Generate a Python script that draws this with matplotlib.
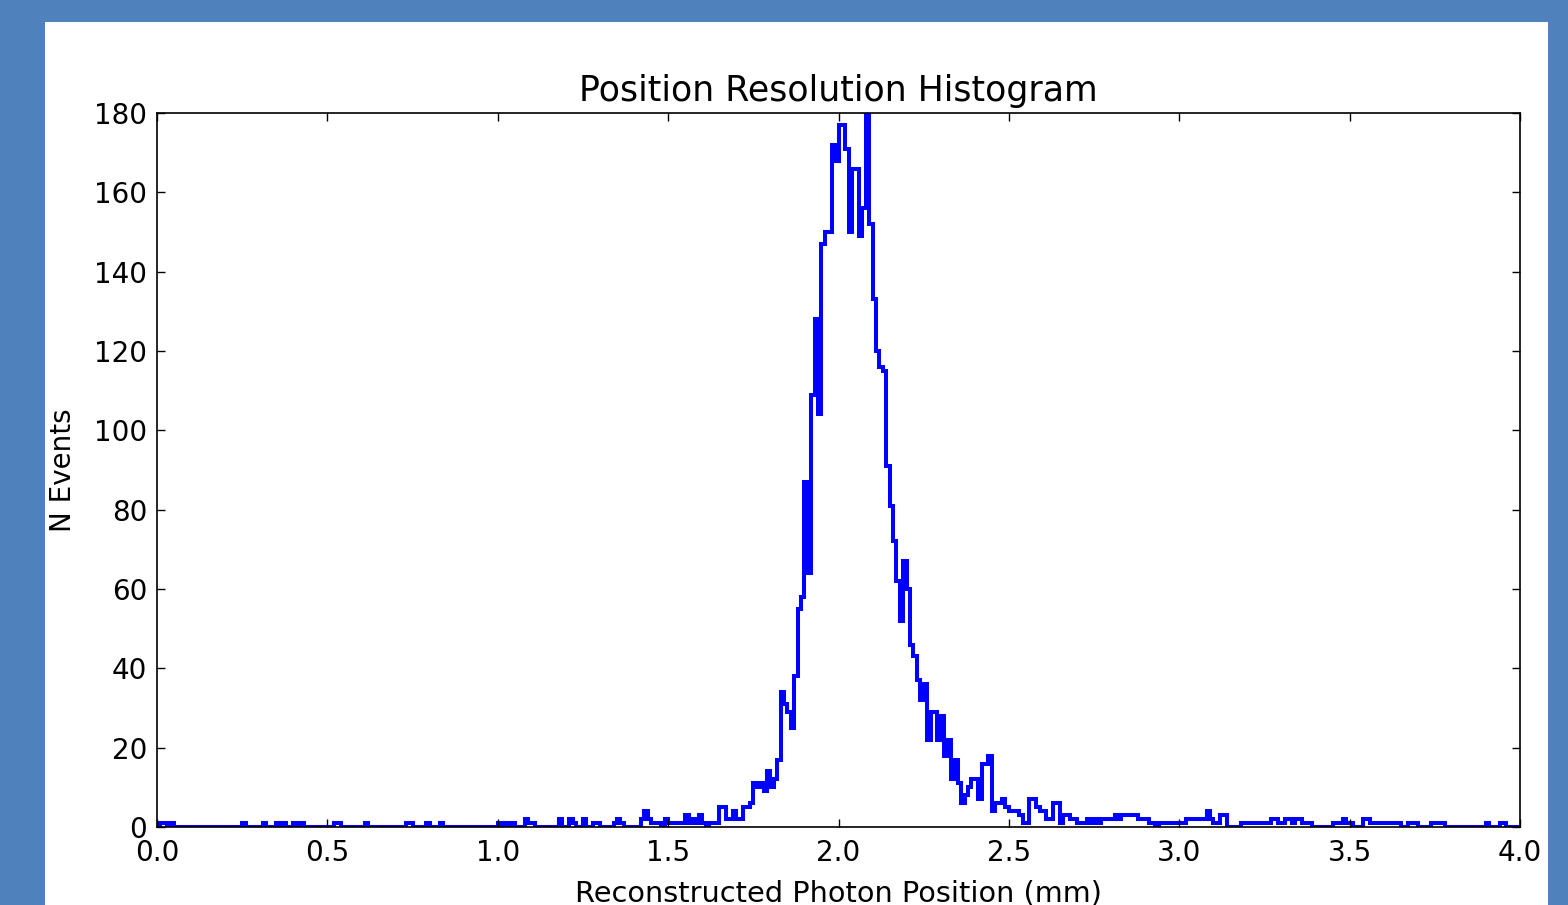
import numpy as np
import matplotlib
matplotlib.use("Agg")
import matplotlib.pyplot as plt
from matplotlib.patches import Rectangle

# histogram binning: 0.01 mm bins from 0 to 4 mm
x_min, x_max, n_bins = 0.0, 4.0, 400

# counts per bin, 0.00 - 0.99 mm
counts_low = [
    0, 1, 1, 0, 1, 0, 0, 0, 0, 0,
    0, 0, 0, 0, 0, 0, 0, 0, 0, 0,
    0, 0, 0, 0, 0, 1, 0, 0, 0, 0,
    0, 1, 0, 0, 0, 1, 0, 1, 0, 0,
    1, 0, 1, 0, 0, 0, 0, 0, 0, 0,
    0, 0, 1, 1, 0, 0, 0, 0, 0, 0,
    0, 1, 0, 0, 0, 0, 0, 0, 0, 0,
    0, 0, 0, 1, 1, 0, 0, 0, 0, 1,
    0, 0, 0, 1, 0, 0, 0, 0, 0, 0,
    0, 0, 0, 0, 0, 0, 0, 0, 0, 0,
]

# 1.00 - 1.69 mm
counts_rise = [
    1, 0, 1, 0, 1, 0, 0, 0, 2, 1,
    1, 0, 0, 0, 0, 0, 0, 0, 2, 0,
    0, 2, 1, 0, 0, 2, 0, 0, 1, 1,
    0, 0, 0, 0, 1, 2, 1, 0, 0, 0,
    0, 0, 2, 4, 2, 1, 1, 1, 0, 2,
    1, 1, 1, 1, 1, 3, 1, 2, 1, 3,
    1, 0, 1, 1, 1, 5, 5, 2, 2, 4,
]

# 1.70 - 2.49 mm (peak region)
counts_peak = [
    2, 2, 5, 5, 6, 11, 10, 11, 9, 14,
    10, 12, 17, 34, 31, 29, 25, 38, 55, 58,
    87, 64, 109, 128, 104, 147, 150, 150, 172, 168,
    177, 177, 171, 150, 166, 166, 149, 156, 195, 152,
    133, 120, 116, 115, 91, 81, 72, 62, 52, 67,
    60, 46, 43, 37, 32, 36, 22, 29, 29, 22,
    28, 18, 22, 12, 17, 11, 6, 8, 10, 12,
    12, 7, 16, 16, 18, 4, 6, 6, 7, 5,
]

# 2.50 - 3.99 mm
counts_tail = [
    4, 4, 4, 3, 1, 1, 7, 7, 5, 4,
    4, 2, 2, 6, 6, 1, 3, 3, 2, 2,
    1, 1, 1, 2, 1, 2, 1, 2, 2, 2,
    2, 3, 2, 3, 3, 3, 3, 3, 2, 2,
    2, 1, 1, 0, 1, 1, 1, 1, 1, 1,
    1, 1, 2, 2, 2, 2, 2, 2, 4, 2,
    1, 1, 3, 3, 0, 0, 0, 0, 1, 1,
    1, 1, 1, 1, 1, 1, 1, 2, 2, 1,
    1, 2, 2, 1, 2, 2, 1, 1, 1, 0,
    0, 0, 0, 0, 0, 1, 1, 1, 2, 1,
    1, 0, 0, 0, 2, 2, 1, 1, 1, 1,
    1, 1, 1, 1, 1, 0, 0, 1, 1, 1,
    0, 0, 0, 0, 1, 1, 1, 1, 0, 0,
    0, 0, 0, 0, 0, 0, 0, 0, 0, 0,
    1, 0, 0, 0, 1, 1, 0, 0, 0, 0,
]

counts = np.array(counts_low + counts_rise + counts_peak + counts_tail)
edges = np.linspace(x_min, x_max, n_bins + 1)

x_ticks = np.arange(0.0, 4.01, 0.5)
y_ticks = np.arange(0, 181, 20)

plt.rcParams['font.family'] = ['DejaVu Sans']
plt.rcParams['font.size'] = 20

fig = plt.figure(figsize=(15.68, 9.05), dpi=100, facecolor='#4f81bd')
# white slide panel behind the plot
fig.patches.append(Rectangle((45 / 1568, 0), 1503 / 1568, 883 / 905,
                             transform=fig.transFigure, facecolor='white',
                             edgecolor='none', zorder=-10))

ax = fig.add_axes([157 / 1568, 1 - 827 / 905, 1363 / 1568, 714 / 905])
ax.set_zorder(1)
ax.stairs(counts, edges, color='#0000ff', linewidth=2.9)

ax.set_xlim(x_min, x_max)
ax.set_ylim(0, 180)
ax.set_xticks(x_ticks)
ax.set_yticks(y_ticks)
ax.tick_params(direction='in', length=6, width=1, top=True, right=True,
               labelsize=20)
ax.tick_params(axis='x', pad=8.5)
ax.tick_params(axis='y', pad=7)
for s in ax.spines.values():
    s.set_linewidth(1.2)

ax.set_title("Position Resolution Histogram", fontsize=25, pad=9)
ax.set_xlabel("Reconstructed Photon Position (mm)", fontsize=20.7, labelpad=9)
ax.set_ylabel("N Events", fontsize=20, labelpad=12)

fig.savefig("out.png", dpi=100, facecolor=fig.get_facecolor())
